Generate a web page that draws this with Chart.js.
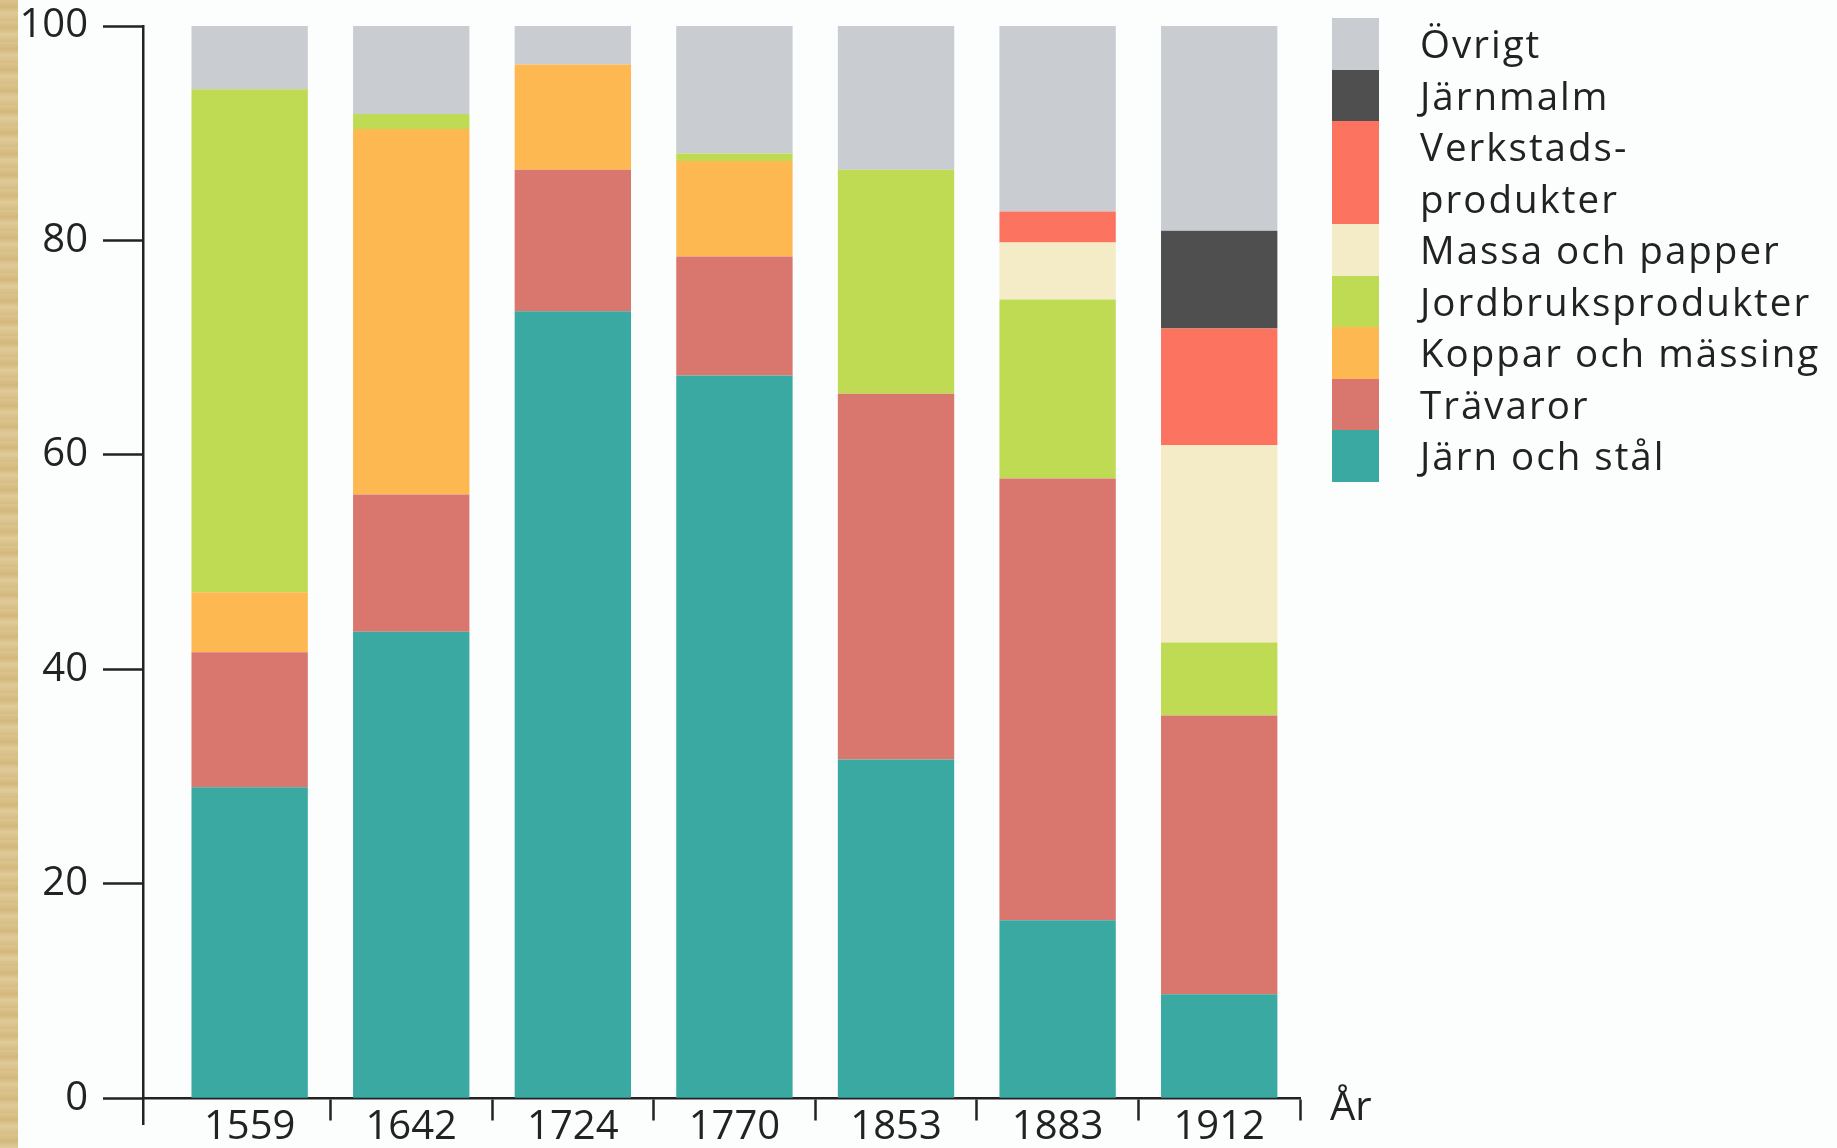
<!DOCTYPE html>
<html lang="sv">
<head>
  <meta charset="UTF-8">
  <title>Sveriges export 1559–1912</title>
  <script src="https://cdn.jsdelivr.net/npm/chart.js"></script>
  <style>
    body {
      margin: 0;
      width: 1837px;
      height: 1148px;
      overflow: hidden;
      background-color: #fcfdfd;
      font-family: "Open Sans", sans-serif;
      color: #222;
      position: relative;
    }

    /* beige paper edge on the left */
    .edge {
      position: absolute;
      left: 0;
      top: 0;
      width: 18px;
      height: 1148px;
      background: repeating-linear-gradient(180deg, #dcc48e 0px, #d3b87c 7px, #e0ca98 13px, #d6bd84 21px);
    }

    #chart {
      position: absolute;
      left: 0;
      top: 0;
    }

    .legend {
      position: absolute;
      left: 1332px;
      top: 18px;
    }

    .legend-row {
      display: flex;
      align-items: stretch;
    }

    .swatch {
      width: 47px;
      flex: none;
    }

    .legend-text {
      margin-left: 41px;
      font-size: 38.5px;
      line-height: 51.5px;
      white-space: pre-line;
      letter-spacing: 2px;
    }

    .year-title {
      position: absolute;
      left: 1330px;
      top: 1080px;
      font-size: 40px;
      line-height: 50px;
    }
  </style>
</head>
<body>
  <div class="edge"></div>
  <canvas id="chart" width="1837" height="1148"></canvas>
  <div class="legend" id="legend"></div>
  <div class="year-title">År</div>

  <script>
    // categories
    var years = ['1559', '1642', '1724', '1770', '1853', '1883', '1912'];

    // shares in percent, bottom of the stack first
    var jarnOchStal   = [29.0, 43.5, 73.4, 67.4, 31.6, 16.6,  9.7];
    var travaror      = [12.6, 12.8, 13.2, 11.1, 34.1, 41.2, 26.0];
    var kopparMassing = [ 5.6, 34.1,  9.8,  8.9,  0,    0,    0  ];
    var jordbruk      = [46.9,  1.4,  0,    0.7, 20.9, 16.7,  6.8];
    var massaPapper   = [ 0,    0,    0,    0,    0,    5.3, 18.4];
    var verkstad      = [ 0,    0,    0,    0,    0,    2.9, 10.9];
    var jarnmalm      = [ 0,    0,    0,    0,    0,    0,    9.1];
    var ovrigt        = [ 5.9,  8.2,  3.6, 11.9, 13.4, 17.3, 19.1];

    var yTicks = [0, 20, 40, 60, 80, 100];

    var seriesNames = ['Järn och stål', 'Trävaror', 'Koppar och mässing', 'Jordbruksprodukter',
                       'Massa och papper', 'Verkstads-\nprodukter', 'Järnmalm', 'Övrigt'];
    var seriesValues = [jarnOchStal, travaror, kopparMassing, jordbruk,
                        massaPapper, verkstad, jarnmalm, ovrigt];
    var seriesColors = ['#3aa9a1', '#d9766e', '#fdb851', '#bfdb53',
                        '#f3ecc6', '#fc745f', '#4f4f4f', '#c9ccd0'];

    var axisColor = '#222';

    var datasets = seriesValues.map(function (vals, k) {
      return {
        label: seriesNames[k],
        data: vals.map(function (v, i) { return { x: i, y: v }; }),
        backgroundColor: seriesColors[k],
        borderWidth: 0,
        categoryPercentage: 1,
        barPercentage: 0.72
      };
    });

    var ctx = document.getElementById('chart').getContext('2d');

    var myChart = new Chart(ctx, {
      type: 'bar',
      data: { datasets: datasets },
      options: {
        responsive: false,
        animation: false,
        layout: { padding: { left: 0, top: 26, right: 537, bottom: 24 } },
        plugins: {
          legend: { display: false },
          tooltip: { enabled: false }
        },
        scales: {
          x: {
            type: 'linear',
            stacked: true,
            offset: false,
            position: { y: 0 },
            min: -0.66,
            max: 6.5,
            ticks: {
              stepSize: 1,
              includeBounds: false,
              autoSkip: false,
              maxRotation: 0,
              padding: -12,
              color: axisColor,
              font: { family: 'Open Sans', size: 40, lineHeight: 1 },
              callback: function (v) { return years[v] !== undefined ? years[v] : ''; }
            },
            grid: {
              offset: true,
              drawOnChartArea: false,
              drawTicks: true,
              tickLength: 21,
              tickWidth: 2.5,
              tickColor: function (c) { return c.index === 0 ? 'rgba(0,0,0,0)' : axisColor; }
            },
            border: { display: true, color: axisColor, width: 2.5 },
            afterFit: function (scale) {
              scale.paddingLeft = 0;
              scale.paddingRight = 0;
            }
          },
          y: {
            stacked: true,
            min: -2.4,
            max: 100,
            afterBuildTicks: function (scale) {
              scale.ticks = yTicks.map(function (v) { return { value: v }; });
            },
            ticks: {
              padding: 15,
              color: axisColor,
              font: { family: 'Open Sans', size: 40 }
            },
            grid: {
              drawOnChartArea: false,
              drawTicks: true,
              tickLength: 40,
              tickWidth: 2.5,
              tickColor: axisColor
            },
            border: { display: true, color: axisColor, width: 2.5 },
            afterFit: function (scale) {
              scale.width = 143;
              scale.paddingTop = 0;
              scale.paddingBottom = 0;
            }
          }
        }
      }
    });

    // legend: top entry first, colour blocks stacked with no gaps
    var legend = document.getElementById('legend');
    for (var k = seriesNames.length - 1; k >= 0; k--) {
      var row = document.createElement('div');
      row.className = 'legend-row';
      var sw = document.createElement('div');
      sw.className = 'swatch';
      sw.style.backgroundColor = seriesColors[k];
      var txt = document.createElement('div');
      txt.className = 'legend-text';
      txt.textContent = seriesNames[k];
      row.appendChild(sw);
      row.appendChild(txt);
      legend.appendChild(row);
    }
  </script>
</body>
</html>
